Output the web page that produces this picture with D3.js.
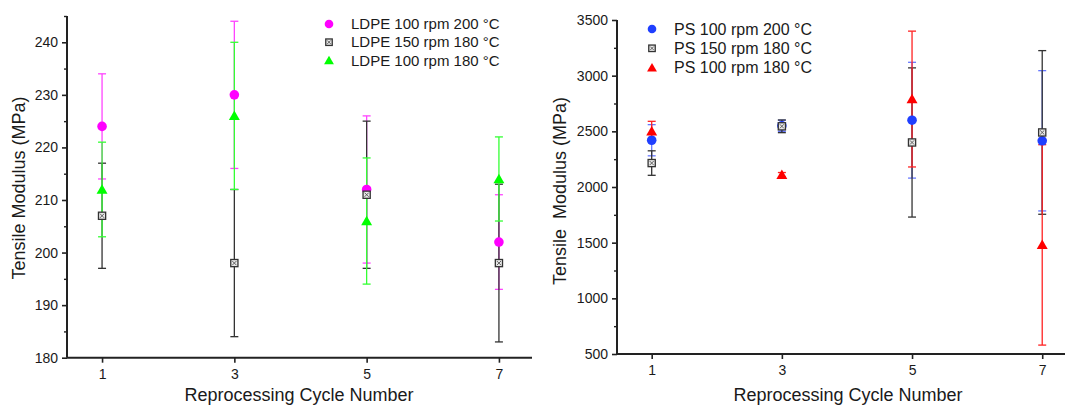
<!DOCTYPE html>
<html>
<head>
<meta charset="utf-8">
<script src="https://cdn.jsdelivr.net/npm/d3@7"></script>
<style>
  body { margin: 0; background: #fff; }
  svg text { font-family: "Liberation Sans", Arial, sans-serif; fill: #1a1a1a; }
</style>
</head>
<body>
<script>
// data
const cycles = [1, 3, 5, 7];
const xTicks = [1, 3, 5, 7];

const ldpeNames = ["LDPE 100 rpm 200 °C", "LDPE 150 rpm 180 °C", "LDPE 100 rpm 180 °C"];
const ldpe200 = [224, 230, 212, 202];
const ldpe200Err = [10, 14, 14, 9];
const ldpe150 = [207, 198, 211, 198];
const ldpe150Err = [10, 14, 14, 15];
const ldpe180 = [212, 226, 206, 214];
const ldpe180Err = [9, 14, 12, 8];
const ldpeTicks = [180, 190, 200, 210, 220, 230, 240];

const psNames = ["PS 100 rpm 200 °C", "PS 150 rpm 180 °C", "PS 100 rpm 180 °C"];
const ps200 = [2420, 2550, 2600, 2415];
const ps200Err = [140, 50, 520, 630];
const ps150 = [2215, 2545, 2400, 2490];
const ps150Err = [110, 57, 670, 735];
const ps180 = [2500, 2110, 2790, 1480];
const ps180Err = [90, 20, 610, 900];
const psTicks = [500, 1000, 1500, 2000, 2500, 3000, 3500];

const svg = d3.select("body").append("svg").attr("width", 1065).attr("height", 406);

function panel(o) {
  const g = svg.append("g");
  const x = d3.scaleLinear().domain(o.xDomain).range(o.xRange);
  const y = d3.scaleLinear().domain(o.yDomain).range(o.yRange);

  // axes
  const yAx = g.append("g").attr("transform", `translate(${o.xRange[0]},0)`)
    .call(d3.axisLeft(y).tickValues(o.yTicks).tickSize(5).tickPadding(4).tickFormat(d3.format("d")));
  g.append("g").attr("transform", `translate(${o.xRange[0]},0)`)
    .call(d3.axisLeft(y).tickValues(o.yMinor).tickSize(3).tickFormat(""))
    .call(a => a.select(".domain").remove())
    .selectAll(".tick line").attr("stroke", "#222").attr("stroke-width", 1.4);
  const xAx = g.append("g").attr("transform", `translate(0,${o.yRange[0]})`)
    .call(d3.axisBottom(x).tickValues(xTicks).tickSize(5).tickPadding(6).tickFormat(d3.format("d")));
  [yAx, xAx].forEach(a => {
    a.select(".domain").attr("stroke", "#222").attr("stroke-width", 2);
    a.selectAll(".tick line").attr("stroke", "#222").attr("stroke-width", 1.6);
    a.selectAll("text").style("font-size", o.tickFont).attr("fill", "#1a1a1a");
  });
  yAx.select(".domain").attr("d", `M0,${o.yRange[0]}V${o.yRange[1]}`);
  xAx.select(".domain").attr("d", `M${o.xRange[0]},0H${o.xRange[1]}`);

  // titles
  g.append("text").attr("x", o.xTitle[0]).attr("y", o.xTitle[1]).attr("text-anchor", "middle")
    .style("font-size", "18px").text("Reprocessing Cycle Number");
  g.append("text").attr("transform", `translate(${o.yTitle[0]},${o.yTitle[1]}) rotate(-90)`)
    .attr("text-anchor", "middle").attr("dy", "0.35em").style("font-size", "18px")
    .style("white-space", "pre").text(o.yLabel);

  // error bars
  const cap = 4;
  o.series.forEach(s => {
    const eb = g.append("g").attr("stroke", s.errColor).attr("stroke-width", 1.3).attr("fill", "none");
    cycles.forEach((c, i) => {
      const cx = x(c), lo = y(s.values[i] - s.err[i]), hi = y(s.values[i] + s.err[i]);
      eb.append("line").attr("x1", cx).attr("x2", cx).attr("y1", lo).attr("y2", hi);
      eb.append("line").attr("x1", cx - cap).attr("x2", cx + cap).attr("y1", lo).attr("y2", lo).attr("stroke", s.capColor);
      eb.append("line").attr("x1", cx - cap).attr("x2", cx + cap).attr("y1", hi).attr("y2", hi).attr("stroke", s.capColor);
    });
  });

  // markers
  o.series.forEach(s => {
    cycles.forEach((c, i) => marker(g, s, x(c), y(s.values[i]), 1));
  });

  // legend
  o.series.forEach((s, k) => {
    const ly = o.legend[1] + k * o.legendStep;
    marker(g, s, o.legend[0], ly, 0.9);
    g.append("text").attr("x", o.legend[0] + o.legendGap).attr("y", ly).attr("dy", "0.35em")
      .style("font-size", o.legendFont).text(s.name);
  });
}

function marker(g, s, cx, cy, k) {
  if (s.shape === "circle") {
    g.append("circle").attr("cx", cx).attr("cy", cy).attr("r", 4.8 * k).attr("fill", s.color);
  } else if (s.shape === "triangle") {
    g.append("path").attr("transform", `translate(${cx},${cy + 1})`)
      .attr("d", d3.symbol(d3.symbolTriangle, 52 * k * k)()).attr("fill", s.color);
  } else {
    const h = 3.6 * k;
    g.append("rect").attr("x", cx - h).attr("y", cy - h).attr("width", 2 * h).attr("height", 2 * h)
      .attr("fill", "#e8e8e8").attr("stroke", "#333").attr("stroke-width", 1.3);
    g.append("path").attr("d", `M${cx - h + 1.5},${cy - h + 1.5}L${cx + h - 1.5},${cy + h - 1.5}M${cx + h - 1.5},${cy - h + 1.5}L${cx - h + 1.5},${cy + h - 1.5}`)
      .attr("stroke", "#555").attr("stroke-width", 0.9);
  }
}

panel({
  xDomain: [0.47, 7.5], xRange: [67, 532],
  yDomain: [180, 245], yRange: [357.7, 16],
  yTicks: ldpeTicks, yMinor: d3.range(185, 246, 10), tickFont: "14px",
  xTitle: [299, 401], yTitle: [19, 188], yLabel: "Tensile Modulus (MPa)",
  legend: [329, 24], legendStep: 18.2, legendGap: 22, legendFont: "15px",
  series: [
    { name: ldpeNames[0], values: ldpe200, err: ldpe200Err, shape: "circle", color: "#ff00ff", errColor: "#ff44ff", capColor: "#ff44ff" },
    { name: ldpeNames[1], values: ldpe150, err: ldpe150Err, shape: "square", color: "#333", errColor: "#333", capColor: "#333" },
    { name: ldpeNames[2], values: ldpe180, err: ldpe180Err, shape: "triangle", color: "#00ff00", errColor: "#33ff33", capColor: "#33ff33" }
  ]
});

panel({
  xDomain: [0.467, 7.35], xRange: [617, 1065],
  yDomain: [500, 3500], yRange: [354, 20],
  yTicks: psTicks, yMinor: d3.range(750, 3500, 500), tickFont: "14px",
  xTitle: [848, 401], yTitle: [560, 191], yLabel: "Tensile  Modulus (MPa)",
  legend: [652, 29], legendStep: 19.3, legendGap: 22, legendFont: "16px",
  series: [
    { name: psNames[0], values: ps200, err: ps200Err, shape: "circle", color: "#1f3fff", errColor: "#6677ff", capColor: "#6677ff" },
    { name: psNames[1], values: ps150, err: ps150Err, shape: "square", color: "#333", errColor: "#333", capColor: "#333" },
    { name: psNames[2], values: ps180, err: ps180Err, shape: "triangle", color: "#ff0000", errColor: "#ff2222", capColor: "#ff2222" }
  ]
});
</script>
</body>
</html>
